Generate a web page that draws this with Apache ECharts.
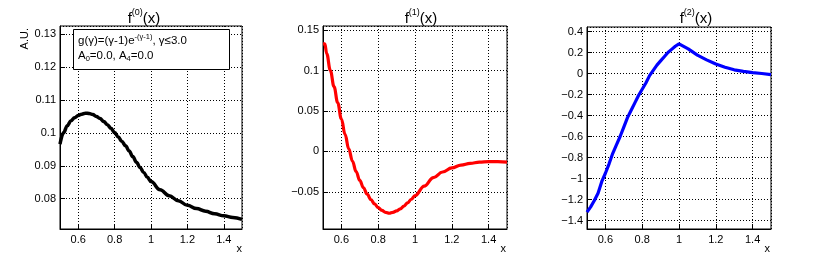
<!DOCTYPE html>
<html>
<head>
<meta charset="utf-8">
<script src="https://cdn.jsdelivr.net/npm/echarts@6/dist/echarts.min.js"></script>
<style>
html,body{margin:0;padding:0;background:#fff;}
#c{width:830px;height:258px;}
</style>
</head>
<body>
<div id="c"></div>
<script>
// ---- data ----
const xBlack = [0.50,0.52,0.54,0.56,0.58,0.60,0.62,0.64,0.66,0.68,0.70,0.72,0.74,0.76,0.78,0.80,0.82,0.84,0.86,0.88,0.90,0.92,0.94,0.96,0.98,1.00,1.05,1.10,1.15,1.20,1.25,1.30,1.35,1.40,1.45,1.50];
const yBlack = [0.0966,0.1001,0.1022,0.1037,0.1046,0.1053,0.1057,0.1060,0.1059,0.1056,0.1050,0.1044,0.1035,0.1025,0.1014,0.1001,0.0988,0.0974,0.0961,0.0945,0.0928,0.0911,0.0895,0.0880,0.0865,0.0852,0.0827,0.0809,0.0794,0.0780,0.0770,0.0762,0.0754,0.0748,0.0743,0.0737];

const xRed = [0.50,0.51,0.52,0.54,0.56,0.58,0.60,0.62,0.64,0.66,0.68,0.70,0.72,0.74,0.76,0.78,0.80,0.82,0.84,0.86,0.88,0.90,0.92,0.94,0.96,0.98,1.00,1.05,1.10,1.15,1.20,1.25,1.30,1.35,1.40,1.45,1.50];
const yRed = [0.133,0.133,0.121,0.100,0.080,0.060,0.040,0.021,0.003,-0.012,-0.025,-0.036,-0.045,-0.053,-0.0595,-0.065,-0.0695,-0.0730,-0.0755,-0.0765,-0.0755,-0.0737,-0.0710,-0.0676,-0.0636,-0.0592,-0.0548,-0.0430,-0.0325,-0.0255,-0.0205,-0.0170,-0.0148,-0.0134,-0.0127,-0.0127,-0.0132];

const xBlue = [0.50,0.51,0.52,0.54,0.56,0.58,0.60,0.62,0.64,0.66,0.68,0.70,0.72,0.74,0.76,0.78,0.80,0.82,0.84,0.86,0.88,0.90,0.92,0.94,0.96,0.98,1.00,1.05,1.10,1.15,1.20,1.25,1.30,1.35,1.40,1.45,1.50];
const yBlue = [-1.32,-1.32,-1.27,-1.21,-1.14,-1.03,-0.95,-0.86,-0.76,-0.68,-0.60,-0.51,-0.42,-0.35,-0.28,-0.21,-0.15,-0.09,-0.02,0.03,0.08,0.12,0.16,0.20,0.23,0.26,0.283,0.235,0.175,0.13,0.09,0.06,0.035,0.02,0.008,0.0,-0.01];

const titles = ['0','1','2'];
const xRange = [0.5, 1.5];
const yRanges = [[0.0708, 0.1325], [-0.096, 0.155], [-1.481, 0.443]];
const ySplit = [5, 5, 9];

// ---- layout ----
const grids = [
  {left: 60, top: 26, width: 182, height: 203},
  {left: 323, top: 26, width: 184, height: 203},
  {left: 587, top: 27, width: 184, height: 202}
];
const titleCenters = [139, 416, 691];
const FONT = '"Liberation Sans", Arial, Helvetica, sans-serif';

function fmt(v){
  let s = String(parseFloat(Number(v).toFixed(4)));
  return s.replace('-', '\u2212');
}

const dotted = {color: '#000', width: 1, type: [1, 2]};

const xAxes = [], yAxes = [];
grids.forEach((g, i) => {
  xAxes.push({
    type: 'value', gridIndex: i, min: xRange[0], max: xRange[1], splitNumber: 5,
    axisLine: {show: true, onZero: false, lineStyle: {color: '#000', width: 1}},
    axisTick: {show: true, inside: true, length: 5, lineStyle: {color: '#000'}},
    axisLabel: {show: true, margin: 5, fontSize: 11, color: '#000', fontFamily: FONT,
      showMinLabel: false, showMaxLabel: false, formatter: fmt},
    splitLine: {show: true, lineStyle: dotted}
  });
  yAxes.push({
    type: 'value', gridIndex: i, min: yRanges[i][0], max: yRanges[i][1], splitNumber: ySplit[i],
    axisLine: {show: true, onZero: false, lineStyle: {color: '#000', width: 1}},
    axisTick: {show: true, inside: true, length: 5, lineStyle: {color: '#000'}},
    axisLabel: {show: true, margin: 4, fontSize: 11, color: '#000', fontFamily: FONT,
      showMinLabel: false, showMaxLabel: false, formatter: fmt},
    splitLine: {show: true, lineStyle: dotted}
  });
});

function pairs(xs, ys){ return xs.map((x, k) => [x, ys[k]]); }

const option = {
  backgroundColor: '#fff',
  animation: false,
  textStyle: {fontFamily: FONT},
  title: titles.map((t, i) => ({
    text: '{a|f}{s|(' + t + ')}{a|(x)}',
    left: titleCenters[i], top: 3, textAlign: 'center',
    textStyle: {
      fontWeight: 'normal',
      rich: {
        a: {fontSize: 15, color: '#000', fontFamily: FONT, fontWeight: 'normal', lineHeight: 18, verticalAlign: 'bottom'},
        s: {fontSize: 9, color: '#000', fontFamily: FONT, fontWeight: 'normal', verticalAlign: 'top', lineHeight: 10}
      }
    }
  })),
  grid: grids.map(g => Object.assign({show: true, borderColor: '#000', borderWidth: 1, backgroundColor: 'transparent', containLabel: false}, g)),
  xAxis: xAxes,
  yAxis: yAxes,
  series: [
    {type: 'line', xAxisIndex: 0, yAxisIndex: 0, data: pairs(xBlack, yBlack), smooth: 0.4, smoothMonotone: 'x', showSymbol: false,
      lineStyle: {color: '#000', width: 3.5}, silent: true},
    {type: 'line', xAxisIndex: 1, yAxisIndex: 1, data: pairs(xRed, yRed), smooth: 0.4, smoothMonotone: 'x', showSymbol: false,
      lineStyle: {color: '#ff0000', width: 3.2}, silent: true},
    {type: 'line', xAxisIndex: 2, yAxisIndex: 2, data: pairs(xBlue, yBlue), smooth: false, showSymbol: false,
      lineStyle: {color: '#0000ff', width: 3.2}, silent: true}
  ],
  graphic: [
    {type: 'text', left: 19, top: 28, style: {text: 'A.U.', fontSize: 11, fill: '#000', fontFamily: FONT}, rotation: Math.PI/2, originX: 0, originY: 0},
    {type: 'text', right: 830 - 242, top: 243, style: {text: 'x', fontSize: 11, fill: '#000', fontFamily: FONT}},
    {type: 'text', right: 830 - 506, top: 243, style: {text: 'x', fontSize: 11, fill: '#000', fontFamily: FONT}},
    {type: 'text', right: 830 - 770, top: 243, style: {text: 'x', fontSize: 11, fill: '#000', fontFamily: FONT}},
    {type: 'rect', shape: {x: 73.5, y: 29.5, width: 156, height: 40}, style: {fill: '#fff', stroke: '#000', lineWidth: 1}, z: 100},
    {type: 'text', x: 78, y: 33, z: 101, style: {
      text: '{n|g(\u03b3)=(\u03b3-1)e}{s|-(\u03b3-1)}{n|, \u03b3\u22643.0}\n{n|A}{b|0}{n|=0.0, A}{b|4}{n|=0.0}',
      fontFamily: FONT, fill: '#000',
      rich: {
        n: {fontSize: 11.5, fill: '#000', lineHeight: 15, fontFamily: FONT},
        s: {fontSize: 7.5, fill: '#000', verticalAlign: 'top', lineHeight: 15, fontFamily: FONT},
        b: {fontSize: 7.5, fill: '#000', verticalAlign: 'bottom', lineHeight: 14, fontFamily: FONT}
      }
    }}
  ]
};

const chart = echarts.init(document.getElementById('c'), null, {renderer: 'canvas'});
chart.setOption(option);
</script>
</body>
</html>
